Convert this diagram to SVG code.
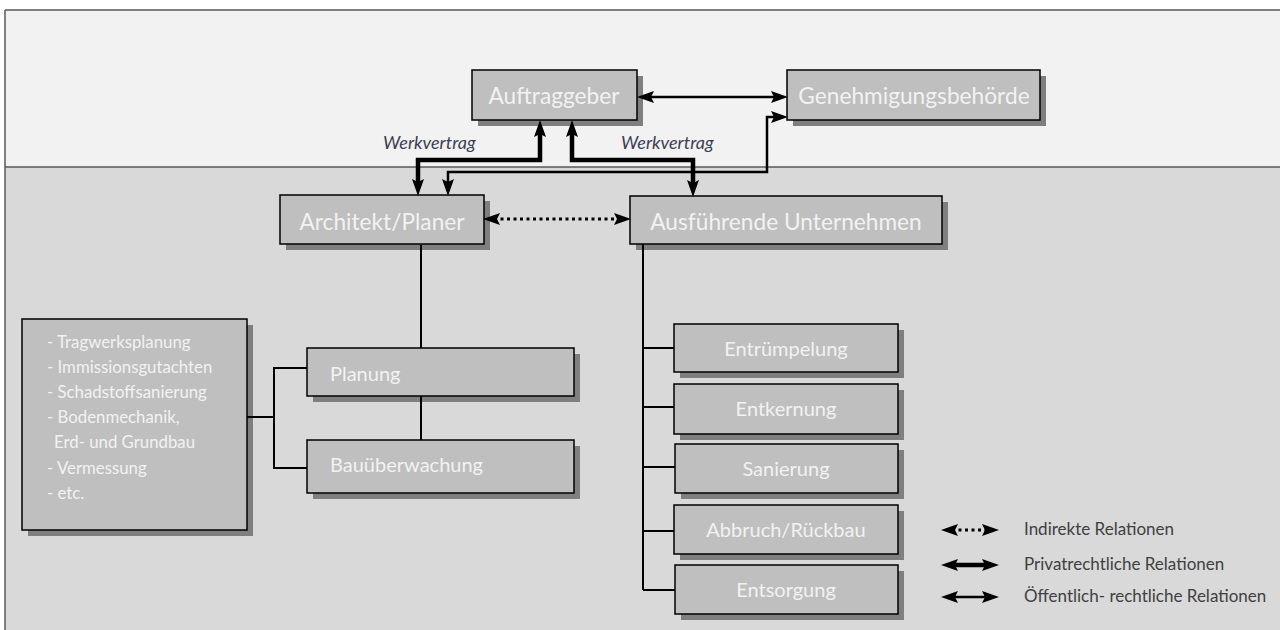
<svg xmlns="http://www.w3.org/2000/svg" width="1280" height="630" viewBox="0 0 1280 630">
<defs>
<style>
.bx{fill:#bfbfbf;stroke:#000;stroke-width:1.5}
.sh{fill:#7f7f7f}
.t{font-family:Lato,"Liberation Sans",sans-serif;fill:#f2f2f2}
.big{font-size:22.7px;text-anchor:middle}
.mid{font-size:20px}
.lst{font-size:16.8px}
.ln{fill:none;stroke:#000;stroke-width:2}
.thick{fill:none;stroke:#000;stroke-width:4.5}
.pub{fill:none;stroke:#000;stroke-width:2.5}
.dot{fill:none;stroke:#000;stroke-width:3;stroke-dasharray:3 3.5}
.lbl{font-family:Lato,"Liberation Sans",sans-serif;font-size:18px;font-style:italic;fill:#3a3f55}
.leg{font-family:Lato,"Liberation Sans",sans-serif;font-size:17px;fill:#404040}
</style>
<marker id="ah" viewBox="0 0 17 12" refX="6" refY="6" markerWidth="17" markerHeight="12" markerUnits="userSpaceOnUse" orient="auto-start-reverse">
<path d="M0,0 L17,6 L0,12 L3,6 z" fill="#000"/>
</marker>
</defs>
<rect x="0" y="0" width="1280" height="630" fill="#fff"/>
<g id="frame">
<rect x="5" y="10" width="1280" height="157" fill="#f2f2f2"/>
<rect x="5" y="167" width="1280" height="470" fill="#d9d9d9"/>
<path d="M5,10 H1280 M5,10 V630 M5,167 H1280" fill="none" stroke="#595959" stroke-width="1.5"/>
</g>
<g id="auftraggeber">
<rect class="sh" x="478" y="76" width="165" height="50"/>
<rect class="bx" x="472" y="70" width="165" height="50"/>
<text class="t big" x="554" y="104">Auftraggeber</text>
</g>
<g id="genehmigungsbehoerde">
<rect class="sh" x="793" y="76" width="253" height="50"/>
<rect class="bx" x="787" y="70" width="253" height="50"/>
<text class="t big" x="914" y="104">Genehmigungsbehörde</text>
</g>
<g id="architekt">
<rect class="sh" x="286" y="201" width="204" height="49"/>
<rect class="bx" x="280" y="195" width="204" height="49"/>
<text class="t big" x="382" y="230">Architekt/Planer</text>
</g>
<g id="ausfuehrende">
<rect class="sh" x="636" y="202" width="312" height="48"/>
<rect class="bx" x="630" y="196" width="312" height="48"/>
<text class="t big" x="786" y="230">Ausführende Unternehmen</text>
</g>
<g id="liste">
<rect class="sh" x="28" y="325" width="225" height="211"/>
<rect class="bx" x="22" y="319" width="225" height="211"/>
<text class="t lst" x="47" y="348">- Tragwerksplanung</text>
<text class="t lst" x="47" y="373">- Immissionsgutachten</text>
<text class="t lst" x="47" y="398">- Schadstoffsanierung</text>
<text class="t lst" x="47" y="423">- Bodenmechanik,</text>
<text class="t lst" x="54" y="448">Erd- und Grundbau</text>
<text class="t lst" x="47" y="474">- Vermessung</text>
<text class="t lst" x="47" y="499">- etc.</text>
</g>
<g id="planung">
<rect class="sh" x="313" y="354" width="267" height="48"/>
<rect class="bx" x="307" y="348" width="267" height="48"/>
<text class="t mid" x="330" y="381">Planung</text>
</g>
<g id="bauueberwachung">
<rect class="sh" x="313" y="446" width="267" height="53"/>
<rect class="bx" x="307" y="440" width="267" height="53"/>
<text class="t mid" x="330" y="472">Bauüberwachung</text>
</g>
<g id="entruempelung">
<rect class="sh" x="680" y="330" width="224" height="48"/>
<rect class="bx" x="674" y="324" width="224" height="48"/>
<text class="t mid" x="786" y="356" text-anchor="middle">Entrümpelung</text>
</g>
<g id="entkernung">
<rect class="sh" x="680" y="390" width="224" height="50"/>
<rect class="bx" x="674" y="384" width="224" height="50"/>
<text class="t mid" x="786" y="416" text-anchor="middle">Entkernung</text>
</g>
<g id="sanierung">
<rect class="sh" x="681" y="450" width="223" height="49"/>
<rect class="bx" x="675" y="444" width="223" height="49"/>
<text class="t mid" x="786" y="476" text-anchor="middle">Sanierung</text>
</g>
<g id="abbruch">
<rect class="sh" x="680" y="511" width="224" height="49"/>
<rect class="bx" x="674" y="505" width="224" height="49"/>
<text class="t mid" x="786" y="537" text-anchor="middle">Abbruch/Rückbau</text>
</g>
<g id="entsorgung">
<rect class="sh" x="681" y="571" width="223" height="49"/>
<rect class="bx" x="675" y="565" width="223" height="49"/>
<text class="t mid" x="786" y="597" text-anchor="middle">Entsorgung</text>
</g>
<g id="connectors">
<path class="pub" d="M648,97 H777" marker-start="url(#ah)" marker-end="url(#ah)"/>
<path class="thick" d="M540,131 V160 H418 V185" marker-start="url(#ah)" marker-end="url(#ah)"/>
<path class="thick" d="M572,131 V160 H693 V186" marker-start="url(#ah)" marker-end="url(#ah)"/>
<path class="pub" d="M448,185 V172 H767 V117 H777" stroke-width="2.2" marker-start="url(#ah)" marker-end="url(#ah)"/>
<path class="dot" d="M494,219 H620" marker-start="url(#ah)" marker-end="url(#ah)"/>
<path class="ln" d="M421,245 V348 M421,396 V440"/>
<path class="ln" d="M247,417 H274 M307,368 H274 V468 H307"/>
<path class="ln" d="M643,244 V590 M643,348 H674 M643,407 H674 M643,467 H675 M643,531 H674 M643,590 H675"/>
</g>
<g id="labels">
<text class="lbl" x="383" y="149">Werkvertrag</text>
<text class="lbl" x="621" y="149">Werkvertrag</text>
</g>
<g id="legend">
<path class="dot" d="M952,530 H988" marker-start="url(#ah)" marker-end="url(#ah)"/>
<path class="thick" d="M952,565 H988" stroke-width="3.5" marker-start="url(#ah)" marker-end="url(#ah)"/>
<path class="pub" d="M952,597 H988" stroke-width="2.8" marker-start="url(#ah)" marker-end="url(#ah)"/>
<text class="leg" x="1024" y="535">Indirekte Relationen</text>
<text class="leg" x="1024" y="570">Privatrechtliche Relationen</text>
<text class="leg" x="1024" y="602">Öffentlich- rechtliche Relationen</text>
</g>
</svg>
